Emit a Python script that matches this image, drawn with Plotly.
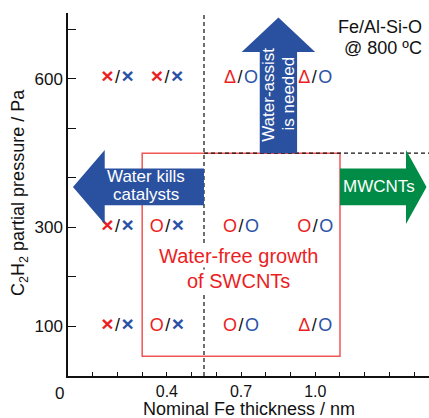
import plotly.graph_objects as go

# ---- data ----
thickness = [0.2, 0.4, 0.7, 1.0, 0.2, 0.4, 0.7, 1.0, 0.2, 0.4, 0.7, 1.0]
pressure = [600, 600, 600, 600, 300, 300, 300, 300, 100, 100, 100, 100]
without_water = ['×', '×', 'Δ', 'Δ', '×', 'O', 'O', 'O', '×', 'O', 'O', 'Δ']
with_water = ['×', '×', 'O', 'O', '×', '×', 'O', 'O', '×', '×', 'O', 'O']

x_tick_vals = [0.1, 0.2, 0.3, 0.4, 0.5, 0.6, 0.7, 0.8, 0.9, 1.0, 1.1, 1.2, 1.3, 1.4]
x_tick_text = ['', '', '', '0.4', '', '', '0.7', '', '', '1.0', '', '', '', '']
y_tick_vals = [100, 200, 300, 400, 500, 600, 700]
y_tick_text = ['100', '', '300', '', '', '600', '']

RED = '#EB1E23'
BLUE = '#2A52A6'
ARROW_BLUE = '#2A51A0'
GREEN = '#008C46'
BOX_RED = '#F05555'
FONT = 'Liberation Sans, Arial, sans-serif'


def glyph(sym, color):
    if sym == '×':
        return f"<span style='color:{color};font-size:21px;font-weight:bold'>×</span>"
    return f"<span style='color:{color}'>{sym}</span>"


labels = [
    glyph(a, RED) + '\u200a/\u200a' + glyph(b, BLUE)
    for a, b in zip(without_water, with_water)
]

fig = go.Figure()
fig.add_trace(go.Scatter(
    x=thickness, y=pressure, mode='text', text=labels,
    textposition='middle center',
    textfont=dict(family=FONT, size=18, color='#111111'),
    hoverinfo='skip', showlegend=False,
))


def h_arrow(x_tail, x_head_base, x_tip, yc, shaft_half, head_half):
    return (f"M {x_tail},{yc + shaft_half} L {x_head_base},{yc + shaft_half} "
            f"L {x_head_base},{yc + head_half} L {x_tip},{yc} "
            f"L {x_head_base},{yc - head_half} L {x_head_base},{yc - shaft_half} "
            f"L {x_tail},{yc - shaft_half} Z")


def v_arrow(y_tail, y_head_base, y_tip, xc, shaft_half, head_half):
    return (f"M {xc - shaft_half},{y_tail} L {xc - shaft_half},{y_head_base} "
            f"L {xc - head_half},{y_head_base} L {xc},{y_tip} "
            f"L {xc + head_half},{y_head_base} L {xc + shaft_half},{y_head_base} "
            f"L {xc + shaft_half},{y_tail} Z")


shapes = [
    # red box: water-free SWCNT region
    dict(type='rect', xref='x', yref='y', x0=0.3, x1=1.1, y0=40, y1=450,
         line=dict(color=BOX_RED, width=1.5), layer='above'),
    # dashed boundary lines
    dict(type='line', xref='x', yref='y', x0=0.55, x1=0.55, y0=0, y1=733,
         line=dict(color='#111111', width=1.2, dash='4px,3px'), layer='above'),
    dict(type='line', xref='x', yref='y', x0=0.55, x1=1.46, y0=450, y1=450,
         line=dict(color='#111111', width=1.2, dash='4px,3px'), layer='above'),
    # arrows
    dict(type='path', xref='x', yref='y',
         path=h_arrow(0.55, 0.1485, 0.0202, 381.8, 37.0, 74.7),
         fillcolor=ARROW_BLUE, line=dict(width=0), layer='above'),
    dict(type='path', xref='x', yref='y',
         path=h_arrow(1.1, 1.367, 1.45, 381.8, 37.0, 74.7),
         fillcolor=GREEN, line=dict(width=0), layer='above'),
    dict(type='path', xref='x', yref='y',
         path=v_arrow(450, 654.3, 723.7, 0.851, 0.0755, 0.1485),
         fillcolor=ARROW_BLUE, line=dict(width=0), layer='above'),
]

annotations = [
    dict(text='0', xref='x', yref='y', x=0, y=0, xshift=-8.5, yshift=-17,
         showarrow=False, font=dict(family=FONT, size=17, color='#111111')),
    dict(text='Nominal Fe thickness / nm', xref='paper', yref='paper',
         x=0.5, y=-0.09, xanchor='center', yanchor='middle', showarrow=False,
         font=dict(family=FONT, size=18, color='#111111')),
    dict(text='C<sub>2</sub>H<sub>2</sub> partial pressure / Pa', xref='paper', yref='paper',
         x=-0.133, y=0.507, xanchor='center', yanchor='middle', textangle=-90,
         showarrow=False, font=dict(family=FONT, size=18, color='#111111')),
    dict(text='Fe/Al-Si-O', xref='x', yref='y', x=1.4395, y=705, xanchor='right',
         yanchor='middle', showarrow=False, font=dict(family=FONT, size=18, color='#111111')),
    dict(text='@ 800 ºC', xref='x', yref='y', x=1.4395, y=662.5, xanchor='right',
         yanchor='middle', showarrow=False, font=dict(family=FONT, size=18, color='#111111')),
    dict(text='Water-free growth', xref='x', yref='y', x=0.691, y=242.5,
         xanchor='center', yanchor='middle', showarrow=False, bgcolor='white', borderpad=0,
         font=dict(family=FONT, size=20, color=RED)),
    dict(text='of SWCNTs', xref='x', yref='y', x=0.691, y=191,
         xanchor='center', yanchor='middle', showarrow=False, bgcolor='white', borderpad=0,
         font=dict(family=FONT, size=20, color=RED)),
    dict(text='Water kills', xref='x', yref='y', x=0.317, y=402,
         xanchor='center', yanchor='middle', showarrow=False,
         font=dict(family=FONT, size=17, color='white')),
    dict(text='catalysts', xref='x', yref='y', x=0.317, y=367,
         xanchor='center', yanchor='middle', showarrow=False,
         font=dict(family=FONT, size=17, color='white')),
    dict(text='MWCNTs', xref='x', yref='y', x=1.257, y=383,
         xanchor='center', yanchor='middle', showarrow=False,
         font=dict(family=FONT, size=17, color='white')),
    dict(text='Water-assist', xref='x', yref='y', x=0.8134, y=568,
         xanchor='center', yanchor='middle', textangle=-90, showarrow=False,
         font=dict(family=FONT, size=17, color='white')),
    dict(text='is needed', xref='x', yref='y', x=0.893, y=570,
         xanchor='center', yanchor='middle', textangle=-90, showarrow=False,
         font=dict(family=FONT, size=17, color='white')),
]

fig.update_layout(
    width=429, height=418,
    margin=dict(l=68, r=0, t=13, b=42),
    paper_bgcolor='white', plot_bgcolor='white',
    shapes=shapes, annotations=annotations,
    showlegend=False,
    xaxis=dict(range=[0, 1.46], showgrid=False, zeroline=False,
               showline=True, linecolor='#111111', linewidth=1.5,
               ticks='inside', ticklen=4, tickwidth=1, tickcolor='#111111',
               tickvals=x_tick_vals, ticktext=x_tick_text,
               tickfont=dict(family=FONT, size=16, color='#111111')),
    yaxis=dict(range=[0, 733], showgrid=False, zeroline=False,
               showline=True, linecolor='#111111', linewidth=1.5,
               ticks='inside', ticklen=8, tickwidth=1, tickcolor='#111111',
               tickvals=y_tick_vals, ticktext=y_tick_text,
               tickfont=dict(family=FONT, size=17, color='#111111')),
)

fig.write_html('out.html')
